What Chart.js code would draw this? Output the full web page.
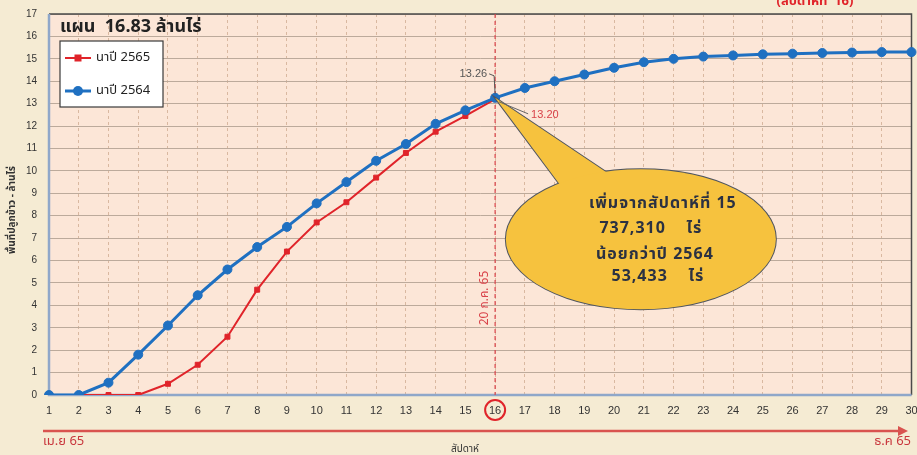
<!DOCTYPE html>
<html>
<head>
<meta charset="utf-8">
<script src="https://cdn.jsdelivr.net/npm/chart.js@4.4.0/dist/chart.umd.min.js"></script>
<style>
  html, body { margin: 0; padding: 0; background: #f5ebd3; }
</style>
</head>
<body>
<canvas id="riceChart" width="917" height="455"></canvas>
<script>
// weeks of the season (x axis)
const weeks = ["1","2","3","4","5","6","7","8","9","10","11","12","13","14","15",
  "16","17","18","19","20","21","22","23","24","25","26","27","28","29","30"];
// planted area, million rai
const area2564 = [0, 0, 0.55, 1.8, 3.1, 4.45, 5.6, 6.6, 7.5, 8.55, 9.5, 10.45, 11.2, 12.1, 12.7,
  13.26, 13.7, 14.0, 14.3, 14.6, 14.85, 15.0, 15.1, 15.15, 15.2, 15.23, 15.26, 15.28, 15.3, 15.3];
const area2565 = [0, 0, 0, 0, 0.5, 1.35, 2.6, 4.7, 6.4, 7.7, 8.6, 9.7, 10.8, 11.75, 12.45, 13.2];
const yTicks = [0, 1, 2, 3, 4, 5, 6, 7, 8, 9, 10, 11, 12, 13, 14, 15, 16, 17];

const THAI = "'Noto Sans Thai', 'Tahoma', 'Loma', 'Garuda', 'Noto Sans', sans-serif";
const RED = "#e0242a";
const BLUE = "#1f70c1";

// Extra drawing: backgrounds, frame, callout, legend, notes
const decor = {
  id: "decor",
  beforeDraw(chart) {
    const { ctx, chartArea: a } = chart;
    ctx.save();
    ctx.fillStyle = "#f5ebd3";
    ctx.fillRect(0, 0, chart.width, chart.height);
    ctx.fillStyle = "#fce6d7";
    ctx.fillRect(a.left, a.top, a.right - a.left, a.bottom - a.top);
    ctx.restore();
  },
  beforeDatasetsDraw(chart) {
    const { ctx, chartArea: a, scales: { x } } = chart;
    ctx.save();
    // frame
    ctx.strokeStyle = "#4a4a4a";
    ctx.lineWidth = 1.5;
    ctx.beginPath();
    ctx.moveTo(a.left, a.top);
    ctx.lineTo(a.right, a.top);
    ctx.lineTo(a.right, a.bottom);
    ctx.stroke();
    ctx.strokeStyle = "#8fa7c9";
    ctx.lineWidth = 2.5;
    ctx.beginPath();
    ctx.moveTo(a.left, a.top);
    ctx.lineTo(a.left, a.bottom);
    ctx.lineTo(a.right, a.bottom);
    ctx.stroke();
    // current week marker
    const px = x.getPixelForValue(weeks.indexOf("16"));
    ctx.strokeStyle = "#d9434a";
    ctx.lineWidth = 1.2;
    ctx.setLineDash([4, 3]);
    ctx.beginPath();
    ctx.moveTo(px, a.top);
    ctx.lineTo(px, a.bottom);
    ctx.stroke();
    ctx.setLineDash([]);
    ctx.translate(px - 10, 298);
    ctx.rotate(-Math.PI / 2);
    ctx.fillStyle = "#d9434a";
    ctx.font = "12px " + THAI;
    ctx.textAlign = "center";
    ctx.textBaseline = "middle";
    ctx.fillText("20 ก.ค. 65", 0, 0);
    ctx.restore();
  },
  afterDatasetsDraw(chart) {
    const { ctx, chartArea: a, scales: { x, y } } = chart;
    const tipX = x.getPixelForValue(weeks.indexOf("16"));
    const tipY = y.getPixelForValue(area2564[15]);
    ctx.save();

    // callout bubble
    const cx = x.getPixelForValue(19.9), cy = y.getPixelForValue(6.95);
    const rx = 135, ry = 70;
    const wedge = () => {
      ctx.beginPath();
      ctx.moveTo(tipX, tipY);
      ctx.lineTo(cx - 79, cy - 52);
      ctx.lineTo(cx - 30, cy - 64);
      ctx.closePath();
    };
    const oval = () => {
      ctx.beginPath();
      ctx.ellipse(cx, cy, rx, ry, 0, 0, Math.PI * 2);
    };
    ctx.strokeStyle = "#4f5560";
    ctx.lineWidth = 2;
    wedge(); ctx.stroke();
    oval(); ctx.stroke();
    ctx.fillStyle = "#f6c23e";
    wedge(); ctx.fill();
    oval(); ctx.fill();

    ctx.fillStyle = "#2b3142";
    ctx.font = "bold 16px " + THAI;
    ctx.letterSpacing = "1px";
    ctx.textAlign = "center";
    ctx.textBaseline = "middle";
    ctx.fillText("เพิ่มจากสัปดาห์ที่ 15", cx + 22, cy - 34);
    ctx.fillText("737,310    ไร่", cx + 10, cy - 9);
    ctx.fillText("น้อยกว่าปี 2564", cx + 14, cy + 17);
    ctx.fillText("53,433    ไร่", cx + 17, cy + 39);
    ctx.letterSpacing = "0px";

    // value notes
    ctx.font = "11px 'Liberation Sans', sans-serif";
    ctx.textAlign = "right";
    ctx.fillStyle = "#555";
    ctx.fillText("13.26", tipX - 8, tipY - 24);
    ctx.strokeStyle = "#555";
    ctx.lineWidth = 1;
    ctx.beginPath();
    ctx.moveTo(tipX - 6, tipY - 24);
    ctx.lineTo(tipX - 1, tipY - 22);
    ctx.lineTo(tipX, tipY - 4);
    ctx.stroke();
    ctx.textAlign = "left";
    ctx.fillStyle = "#d9434a";
    ctx.fillText("13.20", tipX + 36, tipY + 17);
    ctx.strokeStyle = "#666";
    ctx.beginPath();
    ctx.moveTo(tipX + 4, tipY + 4);
    ctx.lineTo(tipX + 33, tipY + 16);
    ctx.stroke();

    // title
    ctx.fillStyle = "#222";
    ctx.font = "bold 18px " + THAI;
    ctx.textAlign = "left";
    ctx.fillText("แผน  16.83 ล้านไร่", a.left + 11, a.top + 14);

    // legend box
    const lx = a.left + 11, ly = a.top + 27;
    ctx.fillStyle = "#ffffff";
    ctx.fillRect(lx, ly, 103, 66);
    ctx.strokeStyle = "#3a3a3a";
    ctx.lineWidth = 1.2;
    ctx.strokeRect(lx, ly, 103, 66);
    const items = [
      { label: "นาปี 2565", color: RED, square: true },
      { label: "นาปี 2564", color: BLUE, square: false }
    ];
    items.forEach((it, i) => {
      const iy = ly + 17 + i * 33;
      ctx.strokeStyle = it.color;
      ctx.lineWidth = it.square ? 2 : 3;
      ctx.beginPath();
      ctx.moveTo(lx + 5, iy);
      ctx.lineTo(lx + 31, iy);
      ctx.stroke();
      ctx.fillStyle = it.color;
      if (it.square) {
        ctx.fillRect(lx + 14.5, iy - 3.5, 7, 7);
      } else {
        ctx.beginPath();
        ctx.arc(lx + 18, iy, 5, 0, Math.PI * 2);
        ctx.fill();
      }
      ctx.fillStyle = "#222";
      ctx.font = "13px " + THAI;
      ctx.fillText(it.label, lx + 36, iy);
    });
    ctx.restore();
  },
  afterDraw(chart) {
    const { ctx, chartArea: a, scales: { x } } = chart;
    ctx.save();
    // circle around current week tick
    const px = x.getPixelForValue(weeks.indexOf("16"));
    ctx.strokeStyle = "#e0242a";
    ctx.lineWidth = 2;
    ctx.beginPath();
    ctx.arc(px, a.bottom + 15, 10, 0, Math.PI * 2);
    ctx.stroke();

    // season arrow
    ctx.strokeStyle = "#d9534f";
    ctx.fillStyle = "#d9534f";
    ctx.lineWidth = 2.5;
    ctx.beginPath();
    ctx.moveTo(43, 431);
    ctx.lineTo(900, 431);
    ctx.stroke();
    ctx.beginPath();
    ctx.moveTo(908, 431);
    ctx.lineTo(898, 426);
    ctx.lineTo(898, 436);
    ctx.closePath();
    ctx.fill();

    ctx.font = "13px " + THAI;
    ctx.fillStyle = "#c9373d";
    ctx.textBaseline = "middle";
    ctx.textAlign = "left";
    ctx.fillText("เม.ย 65", 43, 442);
    ctx.textAlign = "right";
    ctx.fillText("ธ.ค 65", 911, 442);

    ctx.fillStyle = "#333";
    ctx.font = "10px " + THAI;
    ctx.textAlign = "center";
    ctx.fillText("สัปดาห์", 465, 450);

    ctx.fillStyle = "#e0242a";
    ctx.font = "bold 13px " + THAI;
    ctx.fillText("(สัปดาห์ที่  16)", 815, 2);

    // y title
    ctx.translate(13, 210);
    ctx.rotate(-Math.PI / 2);
    ctx.fillStyle = "#333";
    ctx.font = "bold 10px " + THAI;
    ctx.fillText("พื้นที่ปลูกข้าว - ล้านไร่", 0, 0);
    ctx.restore();
  }
};

new Chart(document.getElementById("riceChart").getContext("2d"), {
  type: "line",
  data: {
    labels: weeks,
    datasets: [
      {
        label: "นาปี 2564",
        data: area2564,
        borderColor: BLUE,
        backgroundColor: BLUE,
        borderWidth: 3,
        pointRadius: 4.5,
        pointBorderWidth: 1,
        pointStyle: "circle",
        tension: 0
      },
      {
        label: "นาปี 2565",
        data: area2565,
        borderColor: RED,
        backgroundColor: RED,
        borderWidth: 2,
        pointRadius: 3.5,
        pointBorderWidth: 1,
        pointStyle: "rect",
        tension: 0
      }
    ]
  },
  options: {
    responsive: false,
    animation: false,
    layout: { padding: { top: 14, right: 4, left: 0, bottom: 0 } },
    plugins: { legend: { display: false }, tooltip: { enabled: false } },
    scales: {
      x: {
        offset: false,
        grid: { color: "#d9b8a0", lineWidth: 1, drawTicks: false },
        border: { display: false, dash: [3, 3] },
        ticks: {
          color: "#333",
          font: { family: "'Liberation Sans', sans-serif", size: 11 },
          padding: 9,
          maxRotation: 0,
          autoSkip: false
        },
        afterFit: (s) => {
          s.height = 60;
          s.paddingLeft = 0;
          s.paddingRight = 0;
        }
      },
      y: {
        min: 0,
        max: 17,
        afterBuildTicks: (s) => { s.ticks = yTicks.map((v) => ({ value: v })); },
        grid: { color: "#bcaa9b", lineWidth: 1, drawTicks: false },
        border: { display: false },
        ticks: {
          color: "#333",
          font: { family: "'Liberation Sans', sans-serif", size: 10 },
          padding: 12
        },
        afterFit: (s) => {
          s.width = 49;
          s.paddingTop = 0;
          s.paddingBottom = 0;
        }
      }
    }
  },
  plugins: [decor]
});
</script>
</body>
</html>
